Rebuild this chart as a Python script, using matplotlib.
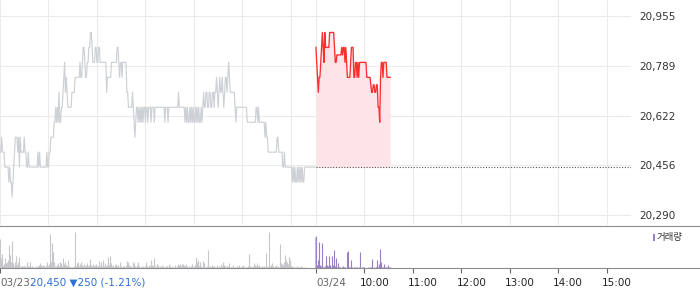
import numpy as np
import matplotlib
matplotlib.use("Agg")
import matplotlib.pyplot as plt
from matplotlib.lines import Line2D
from matplotlib.patches import Rectangle

plt.rcParams['font.family'] = ['DejaVu Sans', 'Noto Sans CJK KR']

# 03/23 minute closes (09:00 .. 15:30)
prev_price = [
    20500, 20500, 20550, 20500, 20500, 20500, 20450, 20450, 20450, 20450,
    20450, 20400, 20450, 20400, 20400, 20350, 20400, 20450, 20500, 20550,
    20550, 20550, 20500, 20550, 20450, 20550, 20500, 20500, 20500, 20500,
    20550, 20500, 20500, 20450, 20450, 20500, 20450, 20450, 20450, 20450,
    20450, 20450, 20450, 20450, 20450, 20450, 20450, 20500, 20450, 20500,
    20450, 20450, 20450, 20450, 20450, 20450, 20450, 20450, 20500, 20450,
    20450, 20500, 20500, 20550, 20550, 20550, 20550, 20600, 20600, 20650,
    20600, 20650, 20600, 20700, 20600, 20600, 20650, 20650, 20700, 20750,
    20800, 20700, 20750, 20700, 20650, 20650, 20650, 20650, 20650, 20700,
    20700, 20700, 20700, 20750, 20750, 20750, 20750, 20750, 20750, 20800,
    20750, 20750, 20800, 20850, 20850, 20800, 20750, 20750, 20800, 20800,
    20850, 20850, 20900, 20900, 20850, 20800, 20800, 20800, 20850, 20850,
    20800, 20800, 20850, 20850, 20800, 20800, 20800, 20800, 20800, 20800,
    20800, 20800, 20700, 20750, 20750, 20750, 20750, 20750, 20800, 20800,
    20800, 20800, 20800, 20800, 20800, 20850, 20850, 20800, 20750, 20800,
    20800, 20750, 20800, 20800, 20800, 20800, 20800, 20700, 20700, 20650,
    20650, 20650, 20650, 20650, 20700, 20650, 20600, 20550, 20600, 20650,
    20650, 20600, 20650, 20600, 20650, 20600, 20650, 20600, 20650, 20650,
    20600, 20650, 20650, 20600, 20650, 20650, 20650, 20600, 20650, 20650,
    20650, 20600, 20650, 20650, 20650, 20650, 20650, 20650, 20650, 20650,
    20650, 20650, 20650, 20650, 20600, 20650, 20650, 20650, 20600, 20650,
    20650, 20650, 20650, 20650, 20650, 20650, 20650, 20650, 20650, 20650,
    20650, 20700, 20650, 20650, 20650, 20650, 20650, 20650, 20650, 20600,
    20650, 20600, 20650, 20600, 20600, 20650, 20600, 20650, 20600, 20650,
    20600, 20600, 20650, 20600, 20650, 20600, 20650, 20600, 20600, 20650,
    20600, 20650, 20700, 20650, 20650, 20700, 20700, 20650, 20650, 20700,
    20700, 20650, 20650, 20700, 20700, 20650, 20700, 20700, 20750, 20700,
    20650, 20700, 20750, 20700, 20700, 20750, 20700, 20650, 20700, 20750,
    20750, 20700, 20750, 20800, 20750, 20700, 20700, 20700, 20700, 20700,
    20700, 20650, 20600, 20650, 20650, 20650, 20650, 20650, 20650, 20650,
    20650, 20650, 20650, 20650, 20650, 20650, 20600, 20600, 20600, 20600,
    20600, 20600, 20600, 20600, 20600, 20600, 20600, 20650, 20650, 20600,
    20650, 20600, 20600, 20600, 20600, 20600, 20600, 20600, 20550, 20600,
    20550, 20550, 20500, 20500, 20500, 20500, 20500, 20500, 20500, 20500,
    20500, 20500, 20500, 20550, 20550, 20500, 20500, 20500, 20500, 20500,
    20450, 20450, 20500, 20450, 20450, 20450, 20450, 20450, 20450, 20450,
    20450, 20450, 20400, 20450, 20400, 20450, 20400, 20400, 20450, 20400,
    20450, 20400, 20450, 20400, 20450, 20400, 20400, 20450, 20450, 20450,
    20450, 20450, 20450, 20450, 20450, 20450, 20450, 20450, 20450, 20450,
    20450,
]

prev_vol = [
    88, 30, 42, 15, 10, 12, 30, 15, 8, 20, 25, 69, 40, 10, 20, 83, 15, 8, 12, 20,
    37, 10, 20, 35, 8, 5, 6, 8, 5, 7, 6, 8, 5, 10, 20, 6, 8, 20, 5, 4,
    6, 5, 3, 5, 4, 6, 5, 8, 10, 15, 6, 10, 8, 10, 6, 8, 5, 10, 20, 6,
    8, 12, 103, 20, 75, 50, 8, 20, 6, 8, 10, 6, 15, 8, 20, 10, 15, 8, 30, 12,
    20, 8, 10, 6, 25, 8, 5, 4, 5, 3, 4, 5, 6, 109, 8, 15, 10, 18, 6, 12,
    20, 8, 10, 6, 12, 8, 10, 5, 17, 8, 10, 28, 6, 10, 8, 12, 6, 10, 8, 12,
    6, 8, 10, 22, 6, 20, 8, 10, 25, 6, 15, 8, 10, 6, 35, 10, 36, 8, 15, 6,
    10, 5, 10, 8, 12, 6, 10, 5, 20, 8, 6, 4, 8, 5, 6, 4, 10, 22, 8, 20,
    10, 6, 8, 5, 20, 6, 15, 8, 5, 10, 6, 18, 8, 5, 4, 5, 3, 6, 4, 5,
    8, 20, 6, 5, 10, 6, 8, 25, 10, 6, 32, 10, 8, 5, 12, 10, 6, 4, 8, 5,
    10, 4, 6, 3, 5, 8, 4, 6, 5, 12, 4, 6, 3, 8, 5, 4, 6, 10, 5, 8,
    12, 6, 10, 12, 8, 14, 6, 12, 10, 8, 12, 6, 5, 4, 8, 5, 3, 6, 12, 4,
    8, 10, 6, 35, 20, 25, 8, 5, 18, 6, 4, 22, 15, 5, 3, 4, 6, 55, 5, 3,
    6, 4, 10, 5, 6, 8, 4, 5, 10, 3, 4, 6, 5, 8, 12, 6, 18, 10, 6, 8,
    4, 6, 8, 5, 17, 5, 3, 4, 6, 10, 4, 3, 5, 8, 4, 3, 10, 5, 3, 4,
    6, 10, 3, 4, 5, 3, 4, 6, 42, 8, 5, 4, 6, 3, 15, 5, 10, 6, 15, 8,
    4, 10, 5, 3, 6, 5, 4, 6, 3, 47, 5, 8, 4, 110, 6, 10, 4, 15, 6, 3,
    8, 4, 10, 5, 6, 4, 8, 72, 15, 12, 10, 6, 20, 40, 25, 20, 12, 10, 35, 25,
    8, 5, 6, 4, 5, 3, 5, 4, 6, 3, 5, 4, 8, 5, 3, 2, 2, 5, 4, 2,
    2, 2, 1, 1, 2, 1, 1, 1, 0, 0, 95,
]

# 03/24 minute closes (09:00 .. 10:32)
today_price = [
    20850, 20800, 20750, 20700, 20750, 20750, 20800, 20850, 20900, 20850,
    20800, 20900, 20850, 20850, 20850, 20850, 20850, 20900, 20900, 20900,
    20900, 20900, 20900, 20850, 20800, 20800, 20825, 20825, 20825, 20825,
    20825, 20825, 20850, 20825, 20850, 20850, 20800, 20850, 20800, 20750,
    20750, 20750, 20750, 20800, 20850, 20850, 20850, 20750, 20750, 20800,
    20800, 20750, 20800, 20750, 20800, 20800, 20800, 20800, 20800, 20800,
    20800, 20800, 20800, 20750, 20750, 20750, 20750, 20750, 20725, 20700,
    20700, 20725, 20725, 20700, 20700, 20725, 20725, 20650, 20650, 20600,
    20750, 20800, 20800, 20750, 20800, 20800, 20800, 20800, 20750, 20750,
    20750, 20750, 20750,
]

today_vol = [
    97, 10, 25, 8, 80, 10, 6, 75, 10, 5, 4, 6, 37, 5, 10, 6, 37, 10, 5, 4,
    37, 10, 6, 55, 8, 30, 5, 15, 4, 3, 5, 2, 3, 8, 2, 3, 4, 2, 3, 50,
    52, 3, 4, 25, 3, 5, 2, 3, 5, 2, 3, 4, 2, 3, 48, 5, 2, 3, 4, 2,
    3, 2, 1, 2, 3, 2, 2, 3, 4, 28, 3, 2, 4, 2, 3, 4, 25, 5, 12, 58,
    6, 20, 4, 5, 12, 3, 2, 3, 4, 10, 3, 2, 4,
]

prev_close = 20450
price_ticks = [20290, 20456.25, 20622.5, 20788.75, 20955]
price_labels = ['20,290', '20,456', '20,622', '20,789', '20,955']
time_labels = ['10:00', '11:00', '12:00', '13:00', '14:00', '15:00']
summary = '20,450 \u25bc250 (-1.21%)'

# one slot per minute, 391 slots for the previous day then today
day_len = 391
x_prev = np.arange(len(prev_price))
x_today = day_len + np.arange(len(today_price))
x_end = day_len + 390

W, H = 700, 289
fig = plt.figure(figsize=(W / 100, H / 100), dpi=100)
ax = fig.add_axes([0, 1 - 225 / H, 631 / W, 225 / H])
axv = fig.add_axes([0, 1 - 268.3 / H, 631 / W, 41.8 / H])

# price panel
ax.plot(x_prev, prev_price, color='#cdd0d5', lw=0.85)
ax.fill_between(x_today, today_price, prev_close, color='#fde4e6', lw=0)
ax.plot(x_today, today_price, color='#ff2e2e', lw=0.95)
ax.hlines(prev_close, day_len, x_end, colors='#555555', lw=0.8,
          linestyles=(0, (1, 1.5)))

hour_lines = list(range(0, 361, 60)) + [day_len + h for h in range(0, 361, 60)]
ax.set_xticks(hour_lines)
ax.set_xticklabels([])
ax.set_xlim(0, x_end)
ax.set_ylim(20256.6, 21008.5)
ax.set_yticks(price_ticks)
ax.set_yticklabels(price_labels)
ax.yaxis.tick_right()
ax.tick_params(length=0, labelsize=7.5, labelcolor='#333333', pad=6)
ax.grid(True, color='#ebebeb', lw=0.75)
ax.set_axisbelow(True)
for s in ax.spines.values():
    s.set_visible(False)

# volume panel
axv.vlines(x_prev, 0, prev_vol, colors='#c5c7cb', lw=0.8)
axv.vlines(x_today, 0, today_vol, colors='#9a7fc8', lw=0.8)
axv.set_xlim(0, x_end)
axv.set_ylim(0, 125)
axv.set_yticks([])
tick_pos = [0, day_len] + [day_len + h for h in range(60, 361, 60)]
axv.set_xticks(tick_pos)
axv.set_xticklabels([])
axv.tick_params(axis='x', direction='out', length=3.6, width=0.8, color='#666666')
for s in axv.spines.values():
    s.set_visible(False)

lab = dict(xycoords=('data', 'axes fraction'), textcoords='offset pixels',
           va='center', ha='left', fontsize=7.5, annotation_clip=False)
axv.annotate('03/23', xy=(0, 0), xytext=(0, -14.5), color='#666666', **lab)
axv.annotate(summary, xy=(0, 0), xytext=(30.5, -14.5), color='#2f6fd6', **lab)
axv.annotate('03/24', xy=(day_len, 0), xytext=(0, -14.5), color='#666666', **lab)
for p, t in zip(tick_pos[2:], time_labels):
    axv.annotate(t, xy=(p, 0), xytext=(-5, -14.5), color='#222222', **lab)

# separators across the full width
fig.add_artist(Line2D([0, 1], [1 - 225.5 / H] * 2, color='#8c8c8c', lw=0.8))
fig.add_artist(Line2D([0, 1], [1 - 268.3 / H] * 2, color='#8c8c8c', lw=0.8))

# volume legend
fig.add_artist(Rectangle((652.7 / W, 1 - 241 / H), 2.6 / W, 7 / H,
                         transform=fig.transFigure, color='#9a7fc8', lw=0))
fig.text(657 / W, 1 - 237.5 / H, '거래량', fontsize=6.8, color='#333333',
         va='center', ha='left', family=['Noto Sans CJK KR', 'DejaVu Sans'])

fig.savefig('out.png', dpi=100)
